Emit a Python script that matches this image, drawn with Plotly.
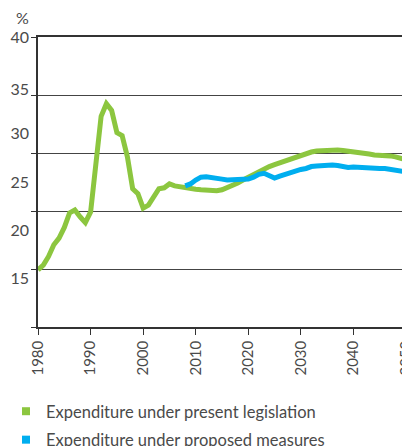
import plotly.graph_objects as go

years_present = list(range(1980, 2051))
present = [15.9, 16.4, 17.3, 18.5, 19.2, 20.3, 21.8, 22.1, 21.4, 20.8,
           21.9, 27.2, 31.8, 33.1, 32.4, 30.1, 29.8, 27.6, 24.3, 23.8,
           22.3, 22.6, 23.4, 24.3, 24.4, 24.8, 24.6, 24.5, 24.35, 24.3,
           24.25, 24.2, 24.15, 24.1, 24.1, 24.2, 24.4, 24.6, 24.9, 25.2,
           25.5, 25.8, 26.1, 26.3, 26.6, 26.8, 27.0, 27.2, 27.4, 27.6,
           27.8, 28.0, 28.1, 28.2, 28.25, 28.3, 28.3, 28.3, 28.25, 28.2,
           28.1, 28.0, 28.0, 27.9, 27.8, 27.8, 27.75, 27.7, 27.6, 27.5,
           27.3]

years_proposed = list(range(2008, 2051))
proposed = [24.6, 24.8, 25.2, 25.5, 25.55, 25.5, 25.4, 25.3, 25.2, 25.2,
            25.25, 25.3, 25.3, 25.5, 25.8, 25.9, 25.7, 25.4, 25.6, 25.8,
            25.9, 26.1, 26.3, 26.4, 26.6, 26.65, 26.7, 26.7, 26.75, 26.7,
            26.55, 26.5, 26.55, 26.5, 26.5, 26.5, 26.45, 26.4, 26.4, 26.3,
            26.3, 26.2, 26.05]

series_names = ["Expenditure under present legislation",
                "Expenditure under proposed measures"]
colors = ["#8cc63f", "#00aeef"]

x_ticks = [1980, 1990, 2000, 2010, 2020, 2030, 2040, 2050]
grid_vals = [10, 16, 22, 28, 34, 40]
label_vals = [15, 20, 25, 30, 34.6, 40]
label_text = ["15", "20", "25", "30", "35", "40"]

FONT = "Lato"
TXT = "#4a4a4a"

fig = go.Figure()
fig.add_trace(go.Scatter(x=years_present, y=present, mode="lines",
                         line=dict(color=colors[0], width=5), showlegend=False))
fig.add_trace(go.Scatter(x=years_proposed, y=proposed, mode="lines",
                         line=dict(color=colors[1], width=5), showlegend=False))
for i, (n, c) in enumerate(zip(series_names, colors)):
    fig.add_trace(go.Scatter(x=[None], y=[None], mode="markers", name=n,
                             legendgroup=str(i),
                             marker=dict(symbol="square", size=8, color=c)))
# helper trace to activate label axis
fig.add_trace(go.Scatter(x=[None], y=[None], yaxis="y2", showlegend=False))

fig.update_layout(
    width=402, height=438,
    margin=dict(l=30, r=4, t=29, b=119, autoexpand=False),
    paper_bgcolor="white", plot_bgcolor="white",
    font=dict(family=FONT, color=TXT, size=16),
    xaxis=dict(range=[1979.99, 2050.01], tickvals=x_ticks, ticktext=[str(v) for v in x_ticks],
               tickangle=-90, ticks="outside", ticklen=6, tickcolor="#333",
               showline=True, linecolor="#333", linewidth=1.5, mirror=True,
               showgrid=False, zeroline=False, automargin=False,
               ticklabeloverflow="allow",
               tickfont=dict(size=15, family=FONT, color=TXT)),
    yaxis=dict(range=[10, 40], tickvals=grid_vals, showticklabels=False,
               ticks="outside", ticklen=5, tickcolor="#333",
               showgrid=True, gridcolor="#444", gridwidth=1,
               showline=True, linecolor="#333", linewidth=1.5, mirror=True,
               zeroline=False, automargin=False),
    yaxis2=dict(range=[10, 40], overlaying="y", side="left", tickvals=label_vals,
                ticktext=label_text, showgrid=False, zeroline=False, ticks="",
                showline=False, automargin=False, ticklabelstandoff=8,
                tickfont=dict(size=16, family=FONT, color=TXT)),
    legend=dict(x=-0.087, y=-0.231, xanchor="left", yanchor="top",
                font=dict(size=16.5, family=FONT, color=TXT), tracegroupgap=4,
                bgcolor="rgba(0,0,0,0)"),
    annotations=[dict(text="%", xref="paper", yref="paper", x=-0.043, y=1.0,
                      yshift=20, xanchor="center", yanchor="middle", showarrow=False,
                      font=dict(size=16, family=FONT, color=TXT))],
)
fig.write_html("out.html")
